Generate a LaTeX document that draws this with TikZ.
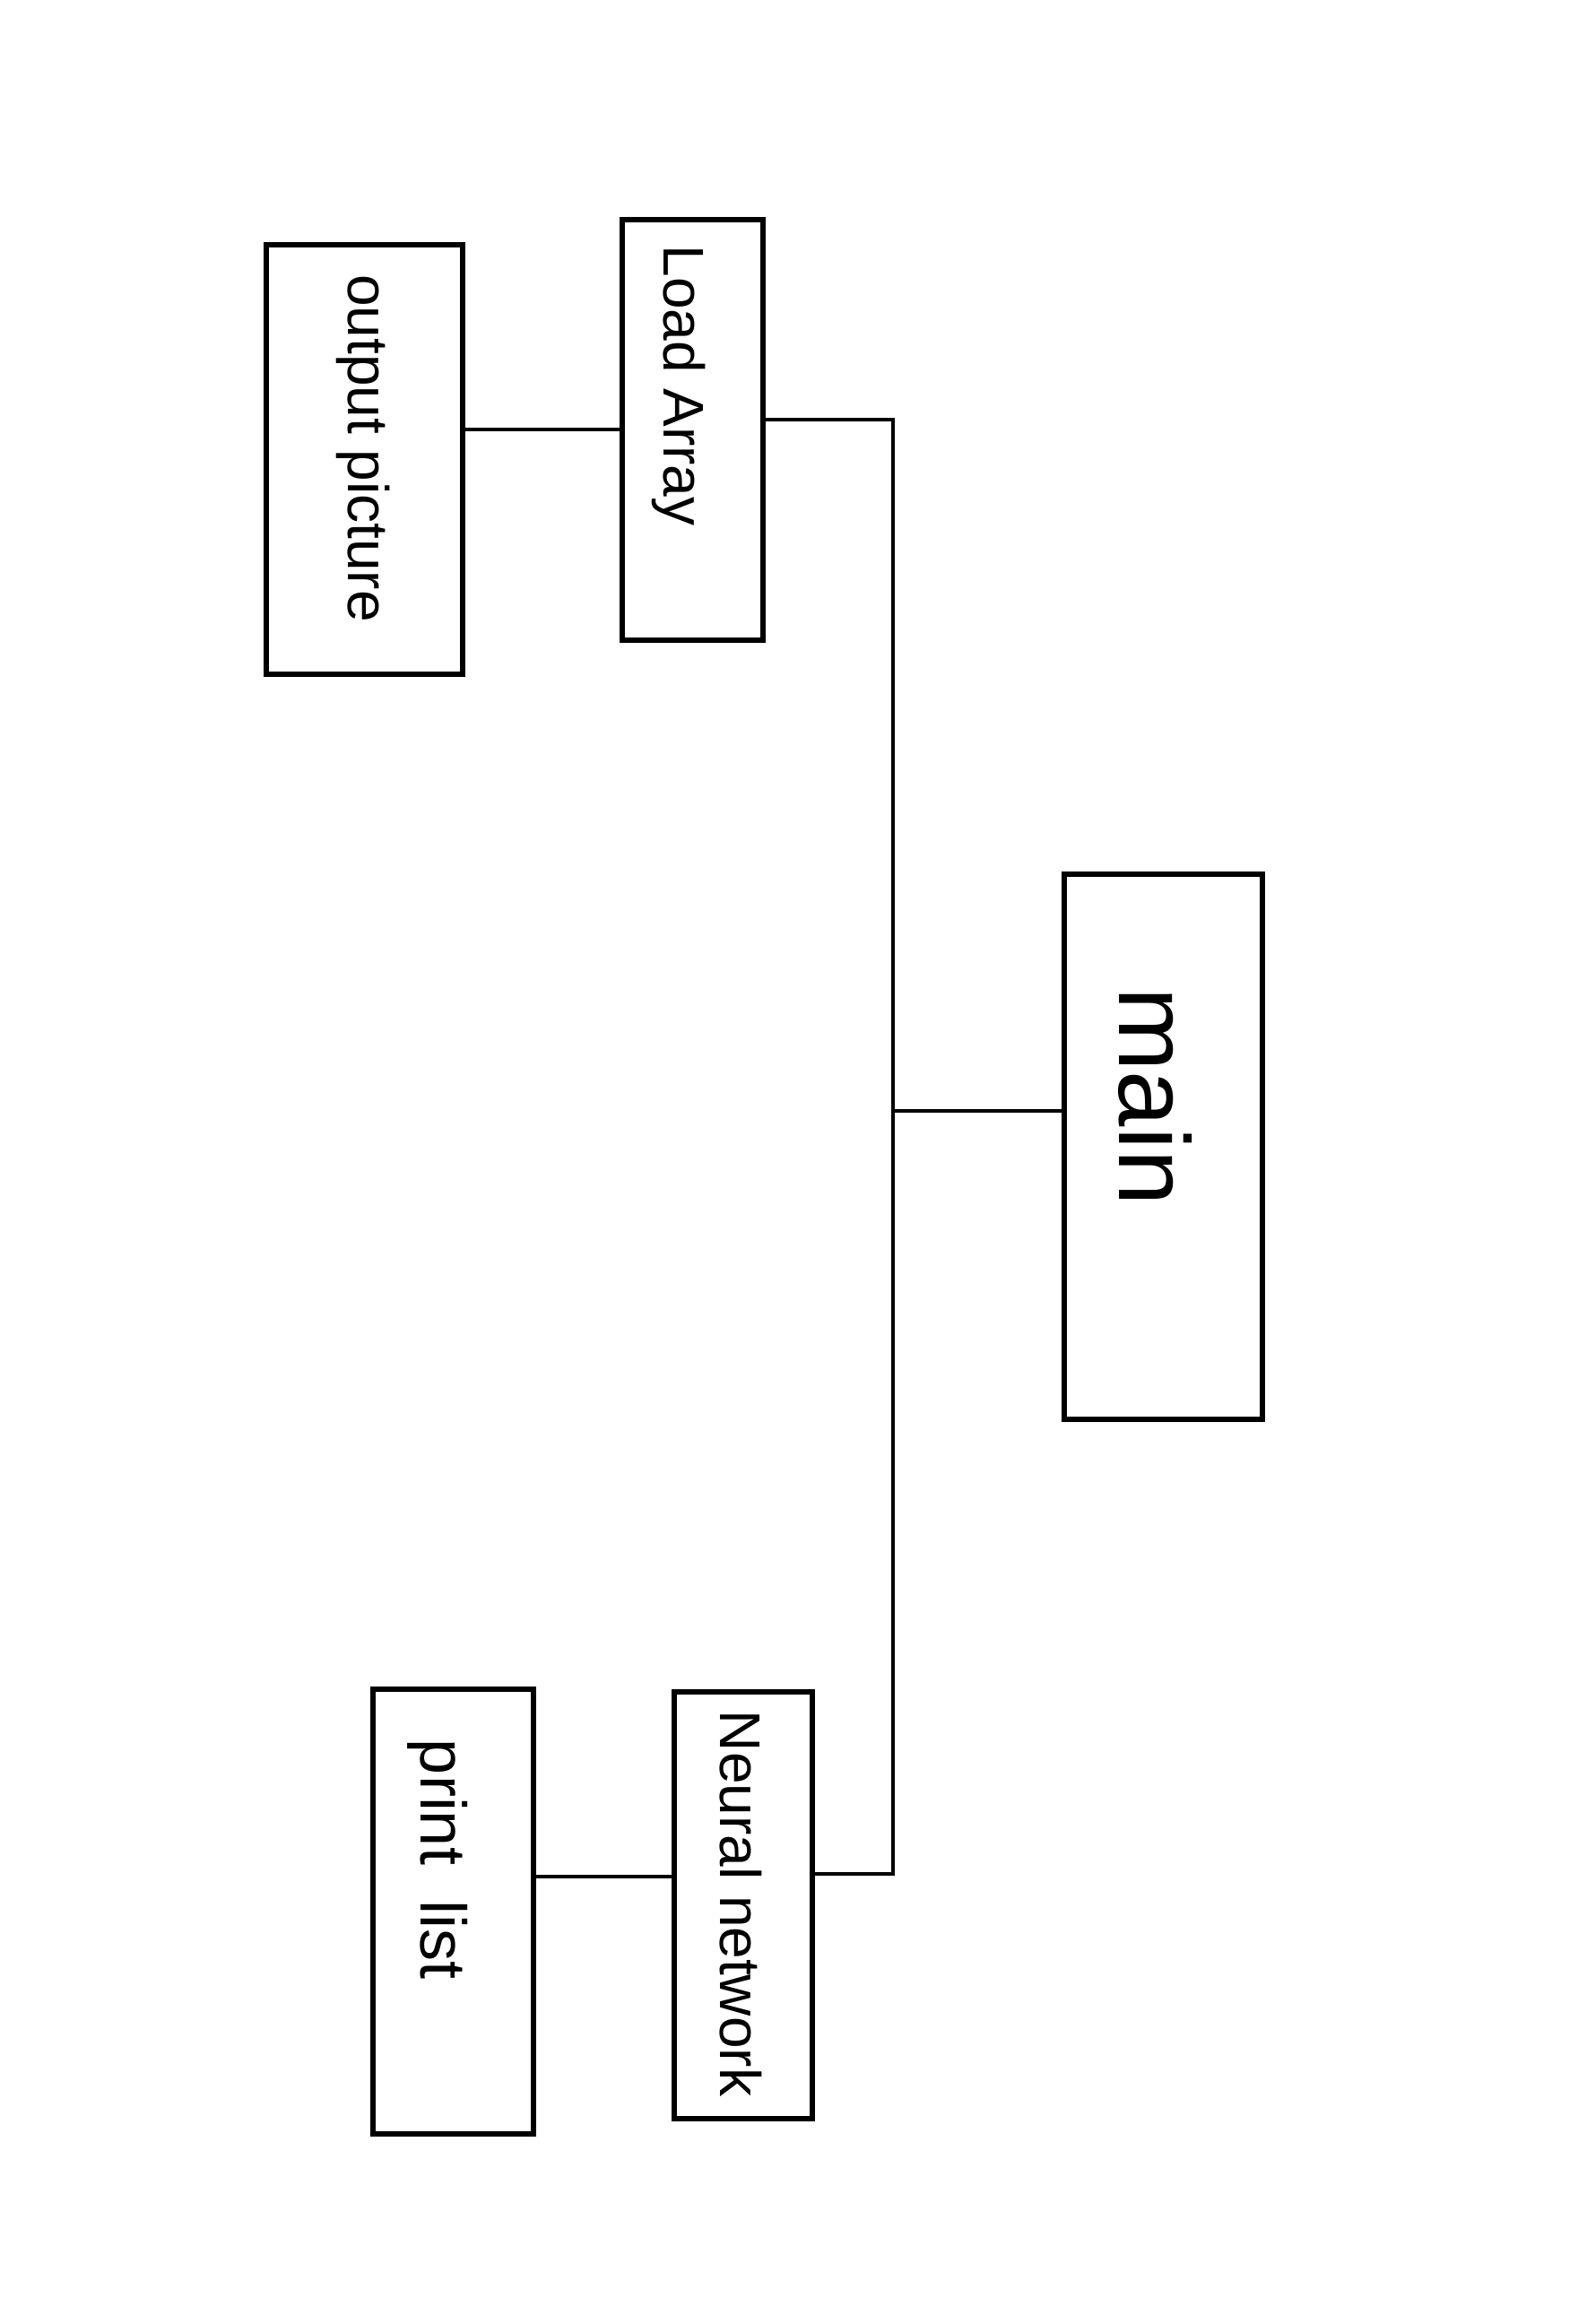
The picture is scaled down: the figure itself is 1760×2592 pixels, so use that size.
\documentclass[tikz,border=0pt]{standalone}
\usepackage{fontspec}
\setmainfont{Liberation Sans}
\begin{document}
\begin{tikzpicture}[x=1pt,y=-1pt,
  box/.style={draw=black, line width=6pt, inner sep=0pt},
  wire/.style={draw=black, line width=4.5pt},
  lbl/.style={inner sep=0pt, rotate=-90, font=\fontsize{64}{70}\selectfont},
  biglbl/.style={inner sep=0pt, rotate=-90, font=\fontsize{112}{120}\selectfont}]
\useasboundingbox[fill=white] (0,0) rectangle (1760,2592);
% boxes (centre x, centre y, width, height in px)
\node[box, minimum width=219pt, minimum height=479pt] (op) at (406.5,512.5) {};
\node[box, minimum width=157pt, minimum height=469pt] (la) at (772.5,479.5) {};
\node[box, minimum width=221pt, minimum height=608pt] (mn) at (1297.5,1279) {};
\node[box, minimum width=154pt, minimum height=476pt] (nn) at (829,2125) {};
\node[box, minimum width=179pt, minimum height=496pt] (pl) at (505.5,2132) {};
% labels
\node[lbl] (opt) at (405,500) {output picture};
\node[lbl] (lat) at (757,430) {Load Array};
\node[biglbl] (mnt) at (1289,1223) {main};
\node[lbl] (nnt) at (826,2123) {Neural network};
\node[lbl, font=\fontsize{72}{78}\selectfont] (plt) at (488,2074) {print\ \ list};
% trunk
\coordinate (t1) at (996,468);
\coordinate (tm) at (996,1239);
\coordinate (t2) at (996,2090);
\draw[wire] (la.east |- t1) -- (t1) -- (t2) -- (nn.east |- t2);
\draw[wire] (tm) -- (mn.west |- tm);
\coordinate (c1) at (0,479);
\draw[wire] (op.east |- c1) -- (la.west |- c1);
\coordinate (c2) at (0,2093);
\draw[wire] (pl.east |- c2) -- (nn.west |- c2);
\end{tikzpicture}
\end{document}
